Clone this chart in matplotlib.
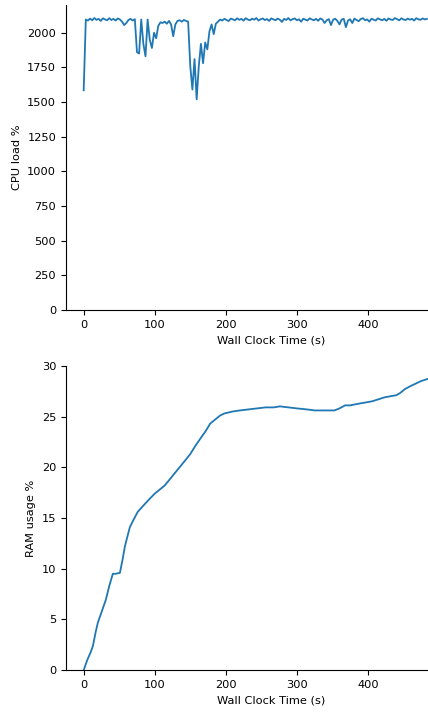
import numpy as np
import matplotlib.pyplot as plt

# CPU load, sampled every 3 s of wall clock time
cpu_step = 3
cpu_load = [
    1585, 2095, 2088, 2102, 2090, 2106, 2093, 2100, 2085, 2104,
    2096, 2090, 2105, 2092, 2100, 2088, 2103, 2095, 2080, 2055,
    2070, 2092, 2100, 2088, 2098, 1860, 1850, 2095, 1920, 1830,
    2095, 1950, 1890, 2000, 1960, 2050, 2075, 2070, 2080, 2065,
    2085, 2060, 1975, 2060, 2085, 2090, 2080, 2092, 2085, 2080,
    1760, 1590, 1810, 1520, 1760, 1920, 1780, 1930, 1880, 2010,
    2060, 1990, 2065, 2080, 2095, 2088, 2100, 2092, 2084, 2102,
    2096, 2090, 2104, 2093, 2100, 2087, 2105, 2095, 2090, 2101,
    2094, 2106, 2088, 2097, 2103, 2091, 2099, 2085, 2104, 2096,
    2090, 2102, 2094, 2078, 2100, 2092, 2106, 2089, 2098, 2103,
    2090, 2097, 2080, 2101, 2094, 2088, 2104, 2096, 2090, 2100,
    2086, 2103, 2095, 2070, 2090, 2098, 2055, 2094, 2101, 2085,
    2060, 2095, 2100, 2040, 2088, 2097, 2070, 2102, 2092, 2083,
    2099, 2105, 2090, 2096, 2080, 2101, 2094, 2088, 2104, 2096,
    2090, 2100, 2086, 2103, 2095, 2092, 2106, 2098, 2089, 2104,
    2096, 2091, 2102, 2094, 2100, 2088, 2105, 2097, 2093, 2103,
    2096, 2100,
]

ram_time = [0, 5, 10, 13, 17, 20, 25, 31, 36, 41,
            45, 51, 55, 58, 62, 65, 70, 76, 85, 93,
            100, 107, 114, 121, 128, 135, 142, 150, 158, 165,
            172, 178, 185, 192, 198, 210, 220, 232, 244, 256,
            268, 276, 288, 300, 314, 325, 335, 345, 353, 360,
            368, 375, 382, 390, 398, 406, 415, 424, 432, 440,
            445, 452, 460, 466, 475, 484]
ram_usage = [0.0, 1.0, 1.8, 2.4, 3.8, 4.7, 5.7, 6.9, 8.3, 9.5,
             9.5, 9.6, 11.0, 12.2, 13.3, 14.1, 14.8, 15.6, 16.3, 16.9,
             17.4, 17.8, 18.2, 18.8, 19.4, 20.0, 20.6, 21.3, 22.2, 22.9,
             23.6, 24.3, 24.7, 25.1, 25.3, 25.5, 25.6, 25.7, 25.8, 25.9,
             25.9, 26.0, 25.9, 25.8, 25.7, 25.6, 25.6, 25.6, 25.6, 25.8,
             26.1, 26.1, 26.2, 26.3, 26.4, 26.5, 26.7, 26.9, 27.0, 27.1,
             27.3, 27.7, 28.0, 28.2, 28.5, 28.7]

x_ticks = [0, 100, 200, 300, 400]

plt.rcParams['font.size'] = 8.2


def style(ax):
    ax.spines['top'].set_visible(False)
    ax.spines['right'].set_visible(False)
    # axes run past the right edge of the canvas, like the original crop
    ax.set_xlim(-25, 552)
    ax.set_xticks(x_ticks)
    ax.set_xlabel('Wall Clock Time (s)')


def main():
    cpu_time = np.arange(len(cpu_load)) * cpu_step

    fig = plt.figure(figsize=(4.28, 7.13), dpi=100)
    ax1 = fig.add_axes([0.154, 0.565, 0.958, 0.428])
    ax2 = fig.add_axes([0.154, 0.060, 0.958, 0.427])

    ax1.plot(cpu_time, cpu_load, color='#1f77b4', lw=1.3)
    ax1.set_ylim(0, 2200)
    ax1.set_ylabel('CPU load %')
    style(ax1)

    ax2.plot(ram_time, ram_usage, color='#1f77b4', lw=1.3)
    ax2.set_ylim(0, 30)
    ax2.set_ylabel('RAM usage %')
    style(ax2)

    fig.savefig('out.png', dpi=100)


if __name__ == '__main__':
    main()
